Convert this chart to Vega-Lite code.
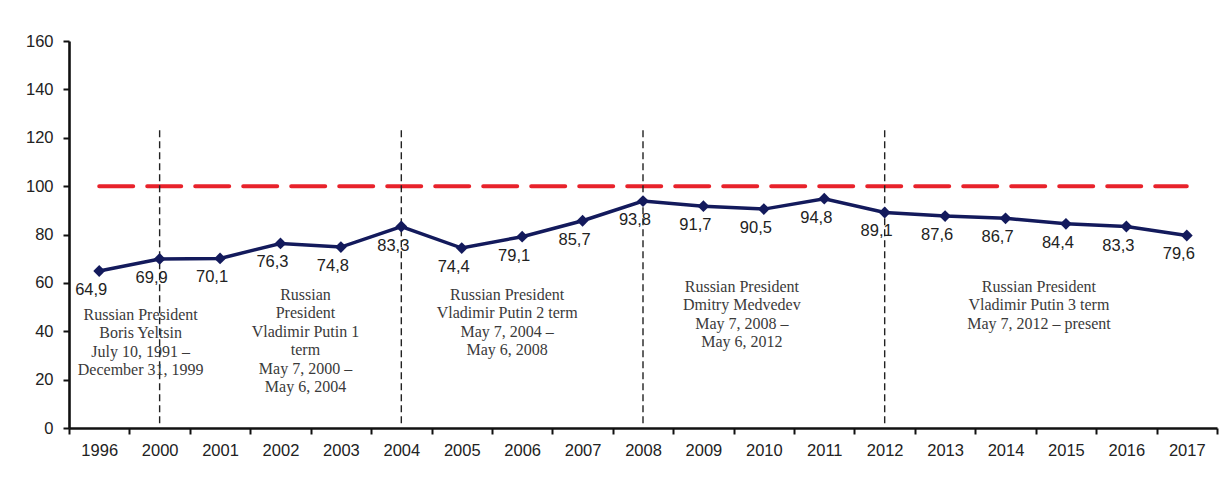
{
  "$schema": "https://vega.github.io/schema/vega-lite/v6.json",
  "autosize": {"type": "none"},
  "padding": {"left": 69, "top": 41, "right": 6, "bottom": 55},
  "width": 1148,
  "height": 387,
  "background": "white",
  "config": {
    "locale": {"number": {"decimal": ",", "thousands": " ", "grouping": [3], "currency": ["", ""]}},
    "view": {"stroke": null},
    "axis": {
      "labelFont": "Liberation Sans",
      "labelFontSize": 16.5,
      "labelColor": "#222222",
      "domainColor": "#111111",
      "domainWidth": 2.6,
      "tickColor": "#111111",
      "tickWidth": 2,
      "tickSize": 6,
      "grid": false,
      "title": null
    }
  },
  "datasets": {
    "index": [
      {"year": "1996", "value": 64.9},
      {"year": "2000", "value": 69.9},
      {"year": "2001", "value": 70.1},
      {"year": "2002", "value": 76.3},
      {"year": "2003", "value": 74.8},
      {"year": "2004", "value": 83.3},
      {"year": "2005", "value": 74.4},
      {"year": "2006", "value": 79.1},
      {"year": "2007", "value": 85.7},
      {"year": "2008", "value": 93.8},
      {"year": "2009", "value": 91.7},
      {"year": "2010", "value": 90.5},
      {"year": "2011", "value": 94.8},
      {"year": "2012", "value": 89.1},
      {"year": "2013", "value": 87.6},
      {"year": "2014", "value": 86.7},
      {"year": "2015", "value": 84.4},
      {"year": "2016", "value": 83.3},
      {"year": "2017", "value": 79.6}
    ],
    "terms": [
      {"year": "2000"},
      {"year": "2004"},
      {"year": "2008"},
      {"year": "2012"}
    ]
  },
  "data": {"name": "index"},
  "encoding": {
    "x": {
      "field": "year",
      "type": "ordinal",
      "sort": null,
      "scale": {"paddingInner": 0, "paddingOuter": 0},
      "axis": {"labelAngle": 0, "tickBand": "extent", "labelPadding": 8}
    }
  },
  "layer": [
    {
      "mark": {"type": "line", "color": "#e8222b", "strokeWidth": 4, "strokeDash": [34, 14], "strokeCap": "round"},
      "encoding": {
        "y": {
          "datum": 100,
          "type": "quantitative",
          "scale": {"domain": [0, 160], "nice": false},
          "axis": {"values": [0, 20, 40, 60, 80, 100, 120, 140, 160], "labelPadding": 10, "format": "d"}
        }
      }
    },
    {
      "data": {"name": "terms"},
      "mark": {"type": "rule", "color": "#222222", "strokeWidth": 1.4, "strokeDash": [7, 4]},
      "encoding": {
        "x": {"field": "year", "type": "ordinal", "sort": null},
        "y": {"datum": 2, "type": "quantitative"},
        "y2": {"datum": 124}
      }
    },
    {
      "mark": {
        "type": "line",
        "color": "#131a5c",
        "strokeWidth": 3.5,
        "point": {"shape": "diamond", "size": 140, "filled": true, "color": "#131a5c", "opacity": 1}
      },
      "encoding": {
        "y": {"field": "value", "type": "quantitative"}
      }
    },
    {
      "mark": {"type": "text", "font": "Liberation Sans", "fontSize": 16.5, "color": "#222222", "baseline": "middle", "dy": 19, "dx": -8},
      "encoding": {
        "y": {"field": "value", "type": "quantitative"},
        "text": {"field": "value", "type": "quantitative", "format": ".1f"}
      }
    },
    {
      "data": {"values": [{"year": "2000", "lines": ["Russian President", "Boris Yeltsin", "July 10, 1991 –", "December 31, 1999"]}]},
      "mark": {"type": "text", "font": "Liberation Serif", "fontSize": 16, "lineHeight": 18.4, "color": "#3a3a3a", "align": "center", "dx": -19},
      "encoding": {
        "x": {"field": "year", "type": "ordinal", "sort": null},
        "y": {"datum": 46.7, "type": "quantitative"},
        "text": {"field": "lines"}
      }
    },
    {
      "data": {"values": [{"year": "2002", "lines": ["Russian", "President", "Vladimir Putin 1", "term", "May 7, 2000 –", "May 6, 2004"]}]},
      "mark": {"type": "text", "font": "Liberation Serif", "fontSize": 16, "lineHeight": 18.4, "color": "#3a3a3a", "align": "center", "dx": 25},
      "encoding": {
        "x": {"field": "year", "type": "ordinal", "sort": null},
        "y": {"datum": 55, "type": "quantitative"},
        "text": {"field": "lines"}
      }
    },
    {
      "data": {"values": [{"year": "2006", "lines": ["Russian President", "Vladimir Putin 2 term", "May 7, 2004 –", "May 6, 2008"]}]},
      "mark": {"type": "text", "font": "Liberation Serif", "fontSize": 16, "lineHeight": 18.4, "color": "#3a3a3a", "align": "center", "dx": -15},
      "encoding": {
        "x": {"field": "year", "type": "ordinal", "sort": null},
        "y": {"datum": 55, "type": "quantitative"},
        "text": {"field": "lines"}
      }
    },
    {
      "data": {"values": [{"year": "2010", "lines": ["Russian President", "Dmitry Medvedev", "May 7, 2008 –", "May 6, 2012"]}]},
      "mark": {"type": "text", "font": "Liberation Serif", "fontSize": 16, "lineHeight": 18.4, "color": "#3a3a3a", "align": "center", "dx": -22},
      "encoding": {
        "x": {"field": "year", "type": "ordinal", "sort": null},
        "y": {"datum": 58.3, "type": "quantitative"},
        "text": {"field": "lines"}
      }
    },
    {
      "data": {"values": [{"year": "2015", "lines": ["Russian President", "Vladimir Putin 3 term", "May 7, 2012 – present"]}]},
      "mark": {"type": "text", "font": "Liberation Serif", "fontSize": 16, "lineHeight": 18.4, "color": "#3a3a3a", "align": "center", "dx": -27},
      "encoding": {
        "x": {"field": "year", "type": "ordinal", "sort": null},
        "y": {"datum": 58.3, "type": "quantitative"},
        "text": {"field": "lines"}
      }
    }
  ]
}
